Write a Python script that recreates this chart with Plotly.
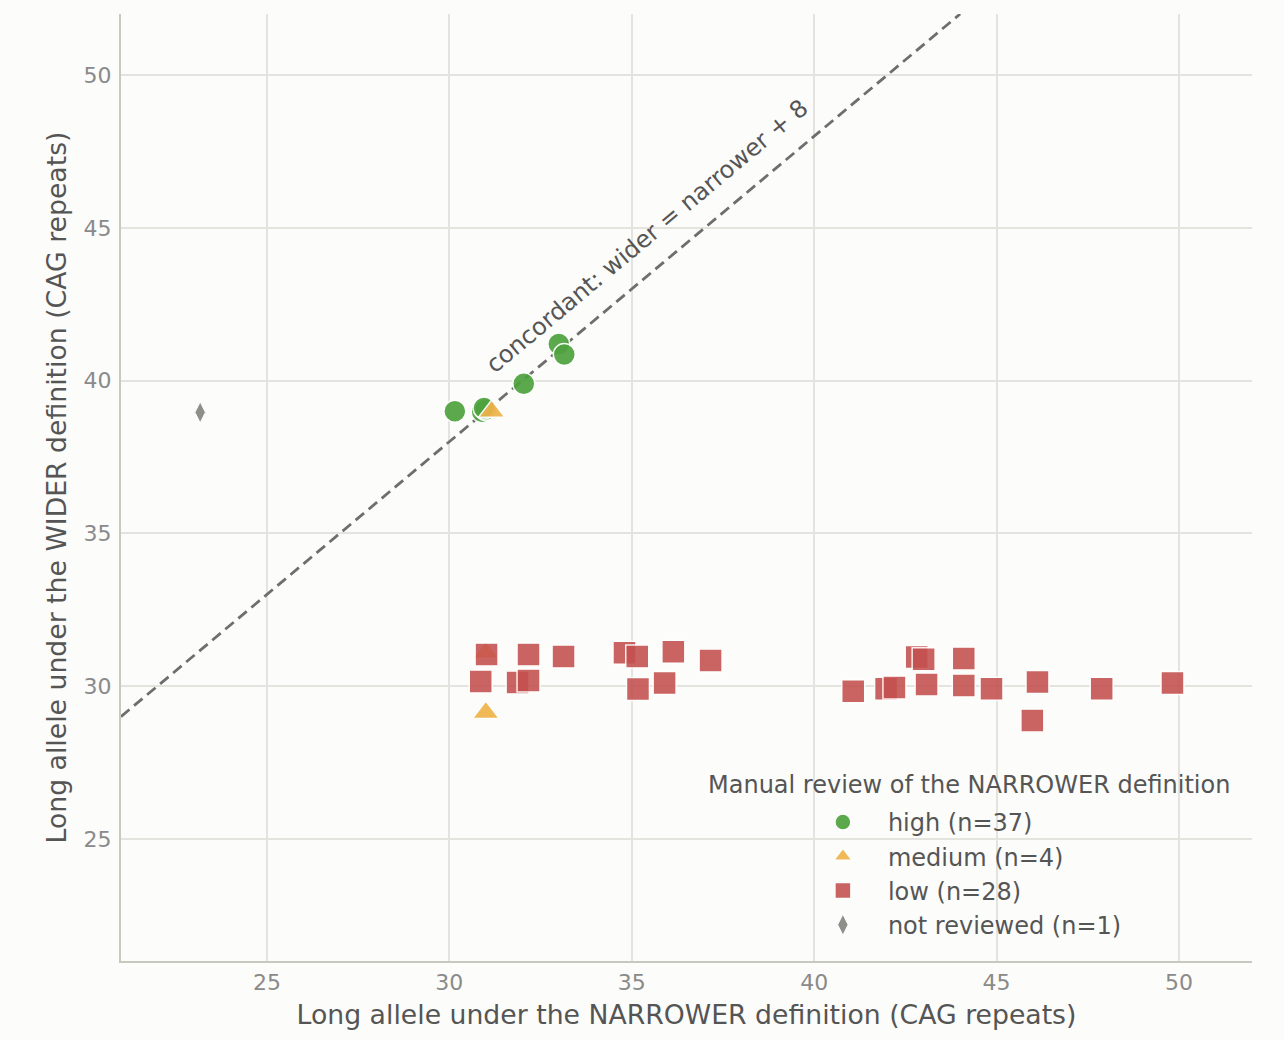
import plotly.graph_objects as go

# ---------------- data ----------------
high_x = [30.15, 30.9, 31.0, 30.95, 32.04, 33.0, 33.15]
high_y = [39.0, 38.98, 39.05, 39.1, 39.9, 41.2, 40.85]

medium_x = [31.16, 31.0, 31.0]
medium_y = [38.99, 31.1, 29.13]

low_x = [31.02, 32.17, 33.13, 30.86, 31.87, 32.17, 34.8, 35.15, 36.14, 37.16,
         35.17, 35.9, 41.07, 41.97, 42.2, 42.81, 43.0, 43.08, 44.1, 44.1,
         44.86, 46.12, 45.98, 47.88, 49.82]
low_y = [31.03, 31.03, 30.97, 30.15, 30.12, 30.18, 31.09, 30.97, 31.12, 30.84,
         29.9, 30.1, 29.83, 29.91, 29.95, 30.95, 30.88, 30.05, 30.9, 30.02,
         29.91, 30.13, 28.87, 29.91, 30.1]

notrev_x = [23.17]
notrev_y = [38.96]

legend_names = ["high (n=37)", "medium (n=4)", "low (n=28)", "not reviewed (n=1)"]
OFFSET = 8
X_RANGE = [21, 52]
Y_RANGE = [21, 52]
TICKS = [25, 30, 35, 40, 45, 50]

BG = "#fcfcfa"
FONT = "DejaVu Sans"

fig = go.Figure()

# concordance line y = x + OFFSET, spanning the visible x range
line_x = [X_RANGE[0], Y_RANGE[1] - OFFSET]
line_y = [v + OFFSET for v in line_x]
fig.add_trace(go.Scatter(x=line_x, y=line_y, mode="lines", showlegend=False,
                         line=dict(color="#6e6e6e", width=2.8, dash="11px,6px"),
                         hoverinfo="skip"))

fig.add_trace(go.Scatter(x=high_x, y=high_y, mode="markers", name=legend_names[0],
                         marker=dict(symbol="circle", size=22, color="#4ea23e", opacity=0.92,
                                     line=dict(color="white", width=1.5))))
fig.add_trace(go.Scatter(x=medium_x, y=medium_y, mode="markers", name=legend_names[1],
                         marker=dict(symbol="triangle-up", size=23, color="#f0b34a", opacity=0.92,
                                     line=dict(color="white", width=1.5))))
fig.add_trace(go.Scatter(x=low_x, y=low_y, mode="markers", name=legend_names[2],
                         marker=dict(symbol="square", size=23, color="#c4504e", opacity=0.88,
                                     line=dict(color="white", width=1.5))))
fig.add_trace(go.Scatter(x=notrev_x, y=notrev_y, mode="markers", name=legend_names[3],
                         marker=dict(symbol="diamond-tall", size=15, color="#8a8a85", opacity=0.95,
                                     line=dict(color="white", width=1))))

axis_common = dict(
    tickvals=TICKS, showgrid=True, gridcolor="#e4e3de", gridwidth=1.5,
    zeroline=False, showline=True, linecolor="#c8c8bd", linewidth=2, mirror=False,
    ticks="outside", tickcolor="rgba(0,0,0,0)",
    tickfont=dict(family=FONT, size=22, color="#8a8a8a"),
)

fig.update_xaxes(range=X_RANGE, ticklen=1,
                 title=dict(text="Long allele under the NARROWER definition (CAG repeats)",
                            font=dict(family=FONT, size=26.7, color="#555555"), standoff=11),
                 **axis_common)
fig.update_yaxes(range=Y_RANGE, ticklen=3,
                 title=dict(text="Long allele under the WIDER definition (CAG repeats)",
                            font=dict(family=FONT, size=26.7, color="#555555"), standoff=9),
                 **axis_common)

fig.add_annotation(x=35.43, y=44.72, xref="x", yref="y",
                   text="concordant: wider = narrower + 8", showarrow=False,
                   textangle=-39.9, font=dict(family=FONT, size=24, color="#555555"))

fig.add_annotation(x=0.75, y=0.186, xref="paper", yref="paper",
                   text="Manual review of the NARROWER definition", showarrow=False,
                   xanchor="center", yanchor="middle",
                   font=dict(family=FONT, size=24, color="#555555"))

fig.update_layout(
    width=1284, height=1040,
    margin=dict(l=121, r=32, t=14, b=79, autoexpand=False),
    paper_bgcolor=BG, plot_bgcolor=BG,
    font=dict(family=FONT, color="#555555"),
    legend=dict(x=0.5985, y=0.170, xanchor="left", yanchor="top",
                bgcolor="rgba(0,0,0,0)", font=dict(family=FONT, size=24, color="#555555"),
                itemwidth=80, tracegroupgap=5),
)

fig.write_html("out.html",
               config={"displayModeBar": False},
               post_script="document.body.style.margin='0px';"
                           "document.body.style.background='" + BG + "';")
